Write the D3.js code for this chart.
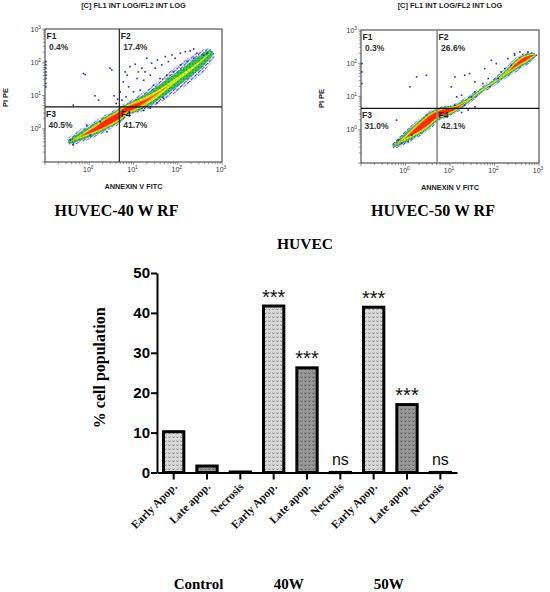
<!DOCTYPE html>
<html>
<head>
<meta charset="utf-8">
<script src="https://cdn.jsdelivr.net/npm/d3@7"></script>
<style>
  body { margin: 0; background: #fff; }
  svg { display: block; }
</style>
</head>
<body>
<svg id="figure" width="550" height="592"></svg>
<script>
// ---------- flow cytometry data (log10 FL1 = Annexin V, log10 FL2 = PI) ----------
const quadrantNames = ["F1", "F2", "F3", "F4"]
const quadrants40 = ["0.4%", "17.4%", "40.5%", "41.7%"]
const quadrants50 = ["0.3%", "26.6%", "31.0%", "42.1%"]
const gate40 = [0.68, 0.66]
const gate50 = [0.71, 0.64]
const labelDecades = [0, 1, 2, 3]

// density ridge: [log FL1, log FL2, spread of blue, green, yellow, orange, red] (spreads in decades)
const band40 = [
    [-0.47, -0.41, 0.20, 0.08, 0, 0, 0],
    [-0.21, -0.24, 0.42, 0.26, 0.10, 0.03, 0],
    [0.10, -0.04, 0.50, 0.36, 0.24, 0.16, 0.10],
    [0.36, 0.16, 0.52, 0.40, 0.30, 0.24, 0.18],
    [0.59, 0.33, 0.52, 0.42, 0.32, 0.26, 0.20],
    [0.70, 0.43, 0.46, 0.38, 0.30, 0.24, 0.18],
    [0.81, 0.56, 0.42, 0.34, 0.26, 0.20, 0.15],
    [1.00, 0.66, 0.50, 0.40, 0.30, 0.22, 0.15],
    [1.30, 0.86, 0.60, 0.42, 0.26, 0.14, 0.05],
    [1.60, 1.11, 0.66, 0.42, 0.18, 0.06, 0],
    [1.90, 1.41, 0.72, 0.42, 0.12, 0, 0],
    [2.21, 1.71, 0.75, 0.42, 0.10, 0, 0],
    [2.51, 2.02, 0.66, 0.38, 0.06, 0, 0],
    [2.77, 2.32, 0.30, 0.14, 0, 0, 0]
]
const band50 = [
    [-0.28, -0.51, 0.14, 0.05, 0, 0, 0],
    [-0.01, -0.26, 0.40, 0.26, 0.12, 0.04, 0],
    [0.25, -0.01, 0.50, 0.38, 0.28, 0.20, 0.14],
    [0.47, 0.22, 0.52, 0.42, 0.32, 0.26, 0.20],
    [0.66, 0.42, 0.46, 0.38, 0.30, 0.24, 0.18],
    [0.92, 0.56, 0.40, 0.34, 0.26, 0.20, 0.15],
    [1.11, 0.64, 0.32, 0.24, 0.16, 0.10, 0.06],
    [1.41, 0.89, 0.24, 0.14, 0.06, 0, 0],
    [1.71, 1.19, 0.20, 0.11, 0.04, 0, 0],
    [2.00, 1.44, 0.22, 0.12, 0.05, 0, 0],
    [2.30, 1.74, 0.32, 0.20, 0.10, 0.04, 0],
    [2.53, 1.99, 0.42, 0.30, 0.20, 0.14, 0.08],
    [2.71, 2.14, 0.42, 0.32, 0.22, 0.16, 0.10],
    [2.90, 2.26, 0.20, 0.10, 0.04, 0, 0]
]

// sparse single events: [log FL1, log FL2]
const events40 = [
    [-0.13, 1.66], [-0.09, 1.63], [0.47, 1.82], [0.51, 1.77], [0.13, 0.99], [-0.36, 0.71], [0.21, 0.86],
    [0.56, 0.99], [0.64, 0.89], [0.61, 0.76],
    [-0.98, 2.02], [-0.98, 1.92], [-0.98, 1.82], [-0.98, 1.71], [-0.98, 1.61], [-0.98, 1.51], [-0.98, 1.36], [-0.98, 1.26],
    [0.81, 1.71], [0.86, 1.61], [0.92, 1.87], [1.04, 1.94], [1.11, 1.71], [1.19, 1.82], [1.30, 2.12], [1.41, 1.97],
    [1.49, 1.82], [1.54, 2.07], [1.64, 1.92], [1.72, 2.17], [1.79, 2.02], [1.87, 2.22], [1.94, 2.12], [2.06, 2.27],
    [2.17, 2.32], [2.28, 2.34], [2.36, 2.40], [2.43, 2.27], [1.08, 1.51], [1.23, 1.46], [1.38, 1.61], [0.89, 1.26],
    [1.00, 1.11], [0.83, 0.96], [1.15, 1.16], [1.45, 1.31], [1.60, 1.51], [1.75, 1.61], [1.90, 1.71], [2.06, 1.92],
    [2.21, 2.02], [2.36, 2.12], [2.58, 2.22], [2.66, 2.27], [0.77, 1.41], [1.26, 1.71], [0.70, 1.11], [0.74, 0.86],
    [1.23, 0.55], [1.38, 0.62], [1.53, 0.78], [1.68, 0.92], [-0.36, -0.49], [-0.43, -0.34], [0.02, -0.19],
    [0.40, -0.09], [-0.06, 0.11], [0.25, 0.21]
]
const events50 = [
    [0.25, 1.59], [0.47, 1.64], [0.10, 1.29],
    [-0.98, 1.99], [-0.98, 1.74], [-0.98, 1.39],
    [1.11, 1.59], [1.33, 1.64], [1.44, 1.69], [1.56, 1.44], [1.78, 1.84], [1.93, 2.09], [2.04, 1.99], [2.15, 1.74],
    [2.30, 2.14], [2.38, 1.94], [2.45, 2.24], [1.89, 1.29], [1.56, 1.14], [1.26, 1.04], [1.15, 0.99], [1.03, 1.29],
    [1.11, 0.74], [1.33, 0.74], [1.48, 0.99], [1.74, 1.39], [1.86, 1.54], [2.08, 1.54], [2.23, 1.84], [2.45, 2.29],
    [2.57, 2.34], [2.75, 2.34], [2.94, 2.24],
    [-0.20, 0.29], [-0.16, -0.31], [-0.09, -0.41], [0.06, -0.36], [0.14, -0.16], [1.41, 0.59], [1.56, 0.69], [1.26, 0.52]
]

// ---------- bar chart data ----------
const groups = ["Control", "40W", "50W"]
const cellStates = ["Early Apop.", "Late apop.", "Necrosis"]
const percentControl = [10.6, 2.0, 0.5]
const percent40 = [42.1, 26.6, 0.4]
const percent50 = [41.8, 17.4, 0.4]
const signif40 = ["***", "***", "ns"]
const signif50 = ["***", "***", "ns"]
const yTicks = [0, 10, 20, 30, 40, 50]

const sans = "'Liberation Sans', Arial, sans-serif"
const serif = "'Liberation Serif', 'Times New Roman', serif"

const svg = d3.select("#figure")
const defs = svg.append("defs")

/**
 * Adds a small tiled fill pattern.
 */
function addPattern(id, size, bg, color, dots, r) {
    const p = defs.append("pattern")
        .attr("id", id)
        .attr("patternUnits", "userSpaceOnUse")
        .attr("width", size)
        .attr("height", size)
    if(bg)
        p.append("rect").attr("width", size).attr("height", size).attr("fill", bg)
    p.selectAll("rect.dot")
        .data(dots)
        .join("rect")
        .attr("class", "dot")
        .attr("x", d => d[0])
        .attr("y", d => d[1])
        .attr("width", r)
        .attr("height", r)
        .attr("fill", color)
}

addPattern("speckBlue", 3.6, null, "#1c1cff", [[0, 0], [1.9, 1.7], [0.6, 2.6]], 1.2)
addPattern("speckGreen", 3, "#36d030", "#2a2aff", [[0.3, 0.4]], 1.1)
addPattern("speckYellow", 3, "#e2ee00", "#4fd23a", [[1.2, 1.5]], 1)

/**
 * Adds a bar texture made of small chevron marks.
 */
function addBarPattern(id, bg, mark) {
    const p = defs.append("pattern")
        .attr("id", id)
        .attr("patternUnits", "userSpaceOnUse")
        .attr("width", 4)
        .attr("height", 4)
    p.append("rect").attr("width", 4).attr("height", 4).attr("fill", bg)
    p.append("path")
        .attr("d", "M0.4,0.6 L1.4,1.9 L2.4,0.6")
        .attr("fill", "none")
        .attr("stroke", mark)
        .attr("stroke-width", 0.9)
}
addBarPattern("barLight", "#d9d9d9", "#777")
addBarPattern("barDark", "#999", "#4e4e4e")

/**
 * Draws one flow cytometry dot plot with quadrant gates.
 */
function drawFlow(cfg) {
    const g = svg.append("g")
    const x = d3.scaleLog().domain([0.1, 1000]).range([cfg.x0, cfg.x1])
    const y = d3.scaleLog().domain([0.1, 1000]).range([cfg.y1, cfg.y0])
    const perDecade = (y(1) - y(10)) * 0.85

    const clipId = cfg.id + "clip"
    defs.append("clipPath").attr("id", clipId)
        .append("rect")
        .attr("x", cfg.x0).attr("y", cfg.y0)
        .attr("width", cfg.x1 - cfg.x0).attr("height", cfg.y1 - cfg.y0)
    const plot = g.append("g").attr("clip-path", `url(#${clipId})`)

    // density ridge drawn as nested ribbons
    const fills = ["url(#speckBlue)", "url(#speckGreen)", "url(#speckYellow)", "#ff9c00", "#ff2800"]
    const pts = cfg.band.map(d => [x(10 ** d[0]), y(10 ** d[1])])
    fills.forEach((fill, level) => {
        const left = []
        const right = []
        cfg.band.forEach((d, i) => {
            const a = pts[Math.max(0, i - 1)]
            const b = pts[Math.min(pts.length - 1, i + 1)]
            const len = Math.hypot(b[0] - a[0], b[1] - a[1])
            const nx = -(b[1] - a[1]) / len
            const ny = (b[0] - a[0]) / len
            const h = d[2 + level] * perDecade / 2
            left.push([pts[i][0] + nx * h, pts[i][1] + ny * h])
            right.push([pts[i][0] - nx * h, pts[i][1] - ny * h])
        })
        plot.append("path")
            .attr("d", d3.line().curve(d3.curveCatmullRomClosed)(left.concat(right.reverse())))
            .attr("fill", fill)
    })

    // single events
    plot.selectAll("rect.event")
        .data(cfg.events)
        .join("rect")
        .attr("class", "event")
        .attr("x", d => x(10 ** d[0]) - 0.8)
        .attr("y", d => y(10 ** d[1]) - 0.8)
        .attr("width", 1.6)
        .attr("height", 1.6)
        .attr("fill", "#1f1fff")

    // frame
    g.append("rect")
        .attr("x", cfg.x0).attr("y", cfg.y0)
        .attr("width", cfg.x1 - cfg.x0).attr("height", cfg.y1 - cfg.y0)
        .attr("fill", "none").attr("stroke", "#333").attr("stroke-width", 1)

    // quadrant gates
    const gx = x(10 ** cfg.gate[0])
    const gy = y(10 ** cfg.gate[1])
    g.append("line").attr("x1", gx).attr("x2", gx).attr("y1", cfg.y0).attr("y2", cfg.y1)
        .attr("stroke", cfg.vGateColor).attr("stroke-width", cfg.vGateWidth)
    g.append("line").attr("x1", cfg.x0).attr("x2", cfg.x1).attr("y1", gy).attr("y2", gy)
        .attr("stroke", "#111").attr("stroke-width", 1.3)

    // log ticks
    const isMajor = t => Math.abs(Math.log10(t) - Math.round(Math.log10(t))) < 1e-6
    g.selectAll("line.xt")
        .data(x.ticks())
        .join("line")
        .attr("class", "xt")
        .attr("x1", d => x(d)).attr("x2", d => x(d))
        .attr("y1", cfg.y1).attr("y2", d => cfg.y1 + (isMajor(d) ? 3 : 2.2))
        .attr("stroke", "#555").attr("stroke-width", 0.6)
    g.selectAll("line.yt")
        .data(y.ticks())
        .join("line")
        .attr("class", "yt")
        .attr("y1", d => y(d)).attr("y2", d => y(d))
        .attr("x1", cfg.x0).attr("x2", d => cfg.x0 - (isMajor(d) ? 3 : 2.2))
        .attr("stroke", "#555").attr("stroke-width", 0.6)

    const power = (sel) => {
        sel.append("tspan").text("10")
        sel.append("tspan").attr("dy", -3).attr("font-size", 4.8).text(d => d)
    }
    g.selectAll("text.xl")
        .data(labelDecades)
        .join("text")
        .attr("class", "xl")
        .attr("x", d => x(10 ** d) - 1)
        .attr("y", cfg.y1 + 10)
        .attr("text-anchor", "middle")
        .attr("font-family", sans).attr("font-size", 7).attr("fill", "#333")
        .call(power)
    g.selectAll("text.yl")
        .data(labelDecades)
        .join("text")
        .attr("class", "yl")
        .attr("x", cfg.x0 - 4)
        .attr("y", d => y(10 ** d) + 2.5)
        .attr("text-anchor", "end")
        .attr("font-family", sans).attr("font-size", 7).attr("fill", "#333")
        .call(power)

    // quadrant names and percentages
    const corners = [[cfg.x0 + 1.5, cfg.y0 + 10], [gx + 1.5, cfg.y0 + 10], [cfg.x0 + 1, gy + 10], [gx + 1.5, gy + 10]]
    corners.forEach((c, i) => {
        g.append("text").attr("x", c[0]).attr("y", c[1])
            .attr("font-family", sans).attr("font-weight", "bold").attr("font-size", 8.5).attr("fill", "#222")
            .text(quadrantNames[i])
        g.append("text").attr("x", c[0] + 2.5).attr("y", c[1] + 11)
            .attr("font-family", sans).attr("font-weight", "bold").attr("font-size", 8.5).attr("fill", "#333")
            .text(cfg.quadrants[i])
    })

    // titles
    const cx = (cfg.x0 + cfg.x1) / 2
    g.append("text").attr("x", cx).attr("y", 7.5).attr("text-anchor", "middle")
        .attr("font-family", sans).attr("font-weight", "bold").attr("font-size", 7.4).attr("fill", "#222")
        .text("[C] FL1 INT LOG/FL2 INT LOG")
    g.append("text").attr("x", cx).attr("y", cfg.y1 + 27).attr("text-anchor", "middle")
        .attr("font-family", sans).attr("font-weight", "bold").attr("font-size", 7.3).attr("fill", "#222")
        .text("ANNEXIN V FITC")
    g.append("text")
        .attr("transform", `translate(${cfg.x0 - 37},${(cfg.y0 + cfg.y1) / 2 + 2}) rotate(-90)`)
        .attr("text-anchor", "middle")
        .attr("font-family", sans).attr("font-weight", "bold").attr("font-size", 7.4).attr("fill", "#222")
        .text("PI PE")
    g.append("text").attr("x", cx - 17).attr("y", 216).attr("text-anchor", "middle")
        .attr("font-family", serif).attr("font-weight", "bold").attr("font-size", 16).attr("fill", "#000")
        .text(cfg.title)
}

drawFlow({id: "p40", x0: 45, x1: 222, y0: 29, y1: 162, gate: gate40, band: band40, events: events40,
    quadrants: quadrants40, title: "HUVEC-40 W RF", vGateColor: "#222", vGateWidth: 1.2})
drawFlow({id: "p50", x0: 361, x1: 539, y0: 30, y1: 163, gate: gate50, band: band50, events: events50,
    quadrants: quadrants50, title: "HUVEC-50 W RF", vGateColor: "#8c8c8c", vGateWidth: 1.6})

/**
 * Draws the grouped bar chart of cell populations.
 */
function drawBars() {
    const g = svg.append("g")
    const values = [percentControl, percent40, percent50]
    const signif = [[], signif40, signif50]
    const bars = groups.flatMap((grp, gi) => cellStates.map((s, si) => ({
        key: grp + "|" + s, group: grp, state: s, si: si,
        value: values[gi][si], sig: signif[gi][si] || ""
    })))

    const x = d3.scaleBand().domain(bars.map(d => d.key)).range([157, 457]).paddingInner(0.3).paddingOuter(0.15)
    const y = d3.scaleLinear().domain([0, 50]).range([472.5, 273])
    const fills = ["url(#barLight)", "url(#barDark)", "#000"]

    g.selectAll("rect.bar")
        .data(bars)
        .join("rect")
        .attr("class", "bar")
        .attr("x", d => x(d.key) + 1.5)
        .attr("y", d => y(d.value) + 1.5)
        .attr("width", x.bandwidth() - 3)
        .attr("height", d => Math.max(0.2, y(0) - y(d.value) - 1.5))
        .attr("fill", d => fills[d.si])
        .attr("stroke", "#000")
        .attr("stroke-width", 3)

    // axes
    const yAxis = g.append("g")
        .attr("transform", "translate(157,0)")
        .call(d3.axisLeft(y).tickValues(yTicks).tickSize(6).tickSizeOuter(0).tickPadding(1))
    const xAxis = g.append("g")
        .attr("transform", `translate(0,${y(0)})`)
        .call(d3.axisBottom(x).tickSize(7).tickSizeOuter(0).tickFormat(""))
    ;[yAxis, xAxis].forEach(a => {
        a.select(".domain").attr("stroke", "#000").attr("stroke-width", 2)
        a.selectAll(".tick line").attr("stroke", "#000").attr("stroke-width", 2)
    })
    yAxis.selectAll(".tick text")
        .attr("font-family", sans).attr("font-weight", "bold").attr("font-size", 15).attr("fill", "#000")

    // category labels
    g.selectAll("text.cat")
        .data(bars)
        .join("text")
        .attr("class", "cat")
        .attr("transform", d => `translate(${x(d.key) + x.bandwidth() / 2 + 4},${y(0) + 15}) rotate(-45)`)
        .attr("text-anchor", "end")
        .attr("font-family", serif).attr("font-weight", "bold").attr("font-size", 11.5).attr("fill", "#111")
        .text(d => d.state)

    // significance marks
    g.selectAll("text.sig")
        .data(bars.filter(d => d.sig))
        .join("text")
        .attr("class", "sig")
        .attr("x", d => x(d.key) + x.bandwidth() / 2)
        .attr("y", d => y(d.value) - (d.sig === "ns" ? 6 : 1))
        .attr("text-anchor", "middle")
        .attr("font-family", sans)
        .attr("font-size", d => d.sig === "ns" ? 16 : 20)
        .attr("fill", "#111")
        .text(d => d.sig)

    // group labels
    g.selectAll("text.grp")
        .data(groups)
        .join("text")
        .attr("class", "grp")
        .attr("x", d => x(d + "|" + cellStates[0]) + x.bandwidth() / 2)
        .attr("y", 589)
        .attr("font-family", serif).attr("font-weight", "bold").attr("font-size", 15).attr("fill", "#000")
        .text(d => d)

    g.append("text").attr("x", 305).attr("y", 249).attr("text-anchor", "middle")
        .attr("font-family", serif).attr("font-weight", "bold").attr("font-size", 15.5).attr("fill", "#000")
        .text("HUVEC")
    g.append("text")
        .attr("transform", `translate(105,${(y(0) + y(50)) / 2 - 5}) rotate(-90)`)
        .attr("text-anchor", "middle")
        .attr("font-family", serif).attr("font-weight", "bold").attr("font-size", 16).attr("fill", "#000")
        .text("% cell population")
}

drawBars()
</script>
</body>
</html>
